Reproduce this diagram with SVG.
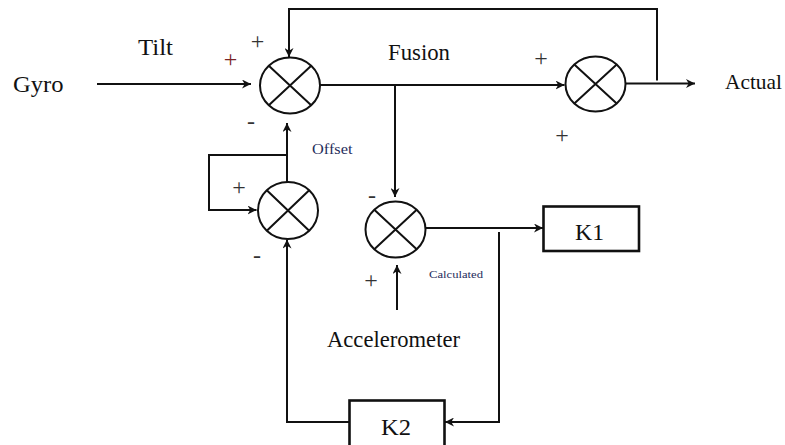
<svg xmlns="http://www.w3.org/2000/svg" width="785" height="445" viewBox="0 0 785 445">
  <defs>
    <marker id="arr" viewBox="0 0 10 10" refX="10" refY="5" markerWidth="9" markerHeight="9" markerUnits="userSpaceOnUse" orient="auto">
      <path d="M0,0 L10,5 L0,10 L3,5 z" fill="#111"/>
    </marker>
  </defs>
  <style>
    .ln { fill: none; stroke: #111; stroke-width: 2; }
    .sum { fill: #fff; stroke: #111; stroke-width: 2; }
    .box { fill: #fff; stroke: #111; stroke-width: 2.6; }
    .lbl { font-family: "Liberation Serif", "Times New Roman", serif; fill: #111; }
    .sm { font-family: "Liberation Serif", "Times New Roman", serif; fill: #1f2d5c; }
    .sign { font-family: "Liberation Serif", "Times New Roman", serif; font-size: 24px; fill: #333; text-anchor: middle; }
    .red { fill: #7a2424; }
  </style>
  <rect width="785" height="445" fill="#fff"/>

  <g id="connectors">
    <path class="ln" d="M97,84 H251" marker-end="url(#arr)"/>
    <path class="ln" d="M657,80.5 V9 H289 V57" marker-end="url(#arr)"/>
    <path class="ln" d="M320,85 H564.5" marker-end="url(#arr)"/>
    <path class="ln" d="M395,85 V197" marker-end="url(#arr)"/>
    <path class="ln" d="M626,83.5 H695" marker-end="url(#arr)"/>
    <path class="ln" d="M287,182 V123" marker-end="url(#arr)"/>
    <path class="ln" d="M287,155 H209 V210 H256.5" marker-end="url(#arr)"/>
    <path class="ln" d="M349,422 H287 V239.5" marker-end="url(#arr)"/>
    <path class="ln" d="M426,228 H543" marker-end="url(#arr)"/>
    <path class="ln" d="M499,232 V422 H445" marker-end="url(#arr)"/>
    <path class="ln" d="M397,310 V265" marker-end="url(#arr)"/>
  </g>

  <g id="sum-top">
    <ellipse class="sum" cx="290" cy="85.5" rx="30" ry="28"/>
    <path class="ln" d="M268.8,65.7 L311.2,105.3 M311.2,65.7 L268.8,105.3"/>
  </g>
  <g id="sum-out">
    <ellipse class="sum" cx="595.5" cy="84" rx="30" ry="27.5"/>
    <path class="ln" d="M574.3,64.5 L616.7,103.5 M616.7,64.5 L574.3,103.5"/>
  </g>
  <g id="sum-offset">
    <ellipse class="sum" cx="288" cy="210.5" rx="30" ry="28.5"/>
    <path class="ln" d="M266.8,190.3 L309.2,230.7 M309.2,190.3 L266.8,230.7"/>
  </g>
  <g id="sum-calc">
    <ellipse class="sum" cx="395.5" cy="229.5" rx="30" ry="28"/>
    <path class="ln" d="M374.3,209.7 L416.7,249.3 M416.7,209.7 L374.3,249.3"/>
  </g>

  <g id="K1">
    <rect class="box" x="543.5" y="206.5" width="95.5" height="44.5"/>
    <text class="lbl" x="575" y="240" font-size="24" textLength="29" lengthAdjust="spacingAndGlyphs">K1</text>
  </g>
  <g id="K2">
    <rect class="box" x="349.5" y="400.5" width="95" height="50"/>
    <text class="lbl" x="381" y="435" font-size="24" textLength="30" lengthAdjust="spacingAndGlyphs">K2</text>
  </g>

  <g id="labels">
    <text class="lbl" x="13" y="91.5" font-size="24" textLength="50.5" lengthAdjust="spacingAndGlyphs">Gyro</text>
    <text class="lbl" x="138" y="55" font-size="24" textLength="35" lengthAdjust="spacingAndGlyphs">Tilt</text>
    <text class="lbl" x="388" y="60" font-size="22.5" textLength="62" lengthAdjust="spacingAndGlyphs">Fusion</text>
    <text class="lbl" x="725" y="89" font-size="22" textLength="57" lengthAdjust="spacingAndGlyphs">Actual</text>
    <text class="lbl" x="327" y="347" font-size="22.5" textLength="133" lengthAdjust="spacingAndGlyphs">Accelerometer</text>
    <text class="sm" x="312" y="154" font-size="15.5" textLength="40.5" lengthAdjust="spacingAndGlyphs">Offset</text>
    <text class="sm" x="429" y="277.5" font-size="11" textLength="54" lengthAdjust="spacingAndGlyphs">Calculated</text>
  </g>

  <g id="signs">
    <text class="sign red" x="230.5" y="66.8">+</text>
    <text class="sign" x="257.5" y="48.5">+</text>
    <text class="sign" x="541" y="66">+</text>
    <text class="sign" x="562" y="143">+</text>
    <text class="sign" x="239" y="195">+</text>
    <text class="sign" x="371" y="288">+</text>
    <text class="sign" x="251" y="128.5">-</text>
    <text class="sign" x="257" y="262.5">-</text>
    <text class="sign" x="372" y="202.5">-</text>
  </g>
</svg>
